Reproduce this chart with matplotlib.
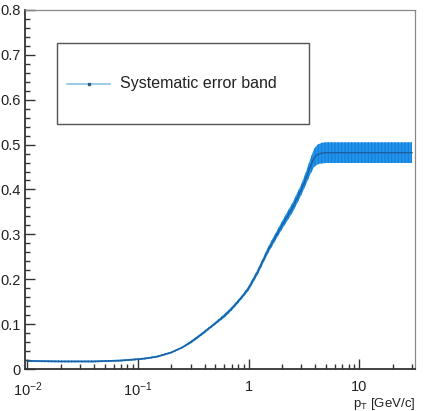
import matplotlib
matplotlib.use("Agg")
import matplotlib.pyplot as plt
import numpy as np
from matplotlib.patches import Rectangle
from matplotlib.ticker import FixedLocator, FixedFormatter, LogLocator, NullFormatter, MultipleLocator

plt.rcParams['font.family'] = ['Liberation Sans', 'DejaVu Sans']
plt.rcParams['mathtext.fontset'] = 'custom'
plt.rcParams['mathtext.rm'] = 'Liberation Sans'
plt.rcParams['mathtext.it'] = 'Liberation Sans'

# values
pt = [0.01, 0.02, 0.04, 0.07, 0.1, 0.12, 0.15, 0.2, 0.25, 0.3, 0.35, 0.4, 0.5, 0.6, 0.7, 0.8, 0.9,
      1.0, 1.2, 1.5, 1.8, 2.0, 2.5, 3.0, 3.3, 3.6, 3.9, 4.2, 4.6, 5.0, 10.0, 20.0, 30.0]
value = [0.018, 0.017, 0.017, 0.019, 0.022, 0.024, 0.028, 0.037, 0.048, 0.060, 0.072, 0.083, 0.102,
         0.118, 0.134, 0.150, 0.165, 0.180, 0.215, 0.265, 0.300, 0.320, 0.360, 0.400, 0.425, 0.450,
         0.470, 0.478, 0.481, 0.482, 0.482, 0.482, 0.482]
error = [0.002, 0.002, 0.002, 0.002, 0.002, 0.002, 0.002, 0.002, 0.002, 0.003, 0.003, 0.003, 0.003,
         0.004, 0.004, 0.004, 0.004, 0.005, 0.006, 0.007, 0.008, 0.009, 0.011, 0.012, 0.014, 0.017,
         0.020, 0.022, 0.023, 0.023, 0.023, 0.023, 0.023]

x_ticks = [0.01, 0.1, 1, 10]
x_labels = ['$10^{-2}$', '$10^{-1}$', '1', '10']
y_labels = ['0', '0.1', '0.2', '0.3', '0.4', '0.5', '0.6', '0.7', '0.8']
label = 'Systematic error band'

band_color = '#2196ee'
line_color = '#1d5f9c'

fig = plt.figure(figsize=(4.24, 4.11), dpi=100)
ax = fig.add_axes([0.059, 0.102, 0.92, 0.874])

pt = np.array(pt)
value = np.array(value)
error = np.array(error)
ax.fill_between(pt, value - error, value + error, facecolor=band_color, edgecolor='#1a7fd6',
                hatch='|||||', linewidth=0)
ax.plot(pt, value, color=line_color, lw=1.0)

ax.set_xscale('log')
ax.set_xlim(0.0095, 32)
ax.set_ylim(0, 0.8)

ax.xaxis.set_major_locator(FixedLocator(x_ticks))
ax.xaxis.set_major_formatter(FixedFormatter(x_labels))
ax.xaxis.set_minor_locator(LogLocator(base=10, subs=np.arange(2, 10)))
ax.xaxis.set_minor_formatter(NullFormatter())
ax.yaxis.set_minor_locator(MultipleLocator(0.02))
ax.set_yticks(np.arange(0, 0.81, 0.1))
ax.set_yticklabels(y_labels)

ax.tick_params(which='both', direction='in', top=False, right=False, colors='#333333',
               labelcolor='#222222', labelsize=10.5, width=1.0)
ax.tick_params(which='major', length=7)
ax.tick_params(which='minor', length=3.6)
ax.tick_params(axis='y', pad=3)
ax.tick_params(axis='x', pad=8)

for s in ['left', 'bottom']:
    ax.spines[s].set_color('#333333')
    ax.spines[s].set_linewidth(1.3)
for s in ['top', 'right']:
    ax.spines[s].set_color('#888888')
    ax.spines[s].set_linewidth(0.9)

ax.text(1.0, -0.074, 'p$_{\\mathregular{T}}$ [GeV/c]', transform=ax.transAxes,
        ha='right', va='top', fontsize=9.5, color='#222222')

# legend box
ax.add_patch(Rectangle((0.082, 0.682), 0.646, 0.226, transform=ax.transAxes,
                       facecolor='white', edgecolor='#555555', lw=1.0, zorder=5))
ax.plot([0.108, 0.218], [0.794, 0.794], transform=ax.transAxes, color='#8cc3e2',
        lw=1.2, zorder=6)
ax.plot([0.163], [0.794], transform=ax.transAxes, marker='s', ms=1.5, color='#2a5f80', zorder=7)
ax.text(0.244, 0.794, label, transform=ax.transAxes, ha='left', va='center',
        fontsize=11.5, color='#222222', zorder=7)

fig.savefig('out.png', dpi=100)
